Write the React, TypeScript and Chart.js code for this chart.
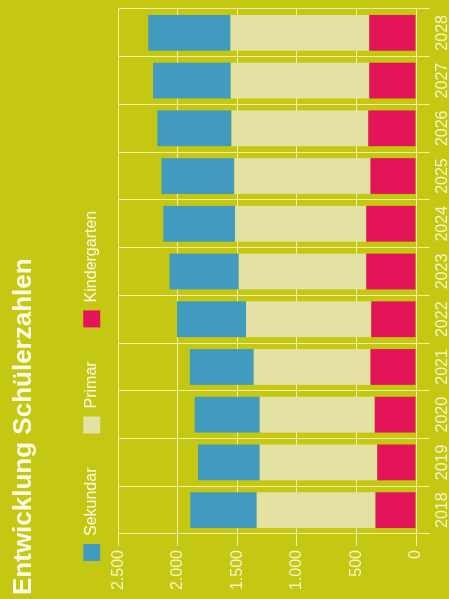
import React, { useEffect, useRef } from "react";
import { Chart, registerables } from "chart.js";

Chart.register(...registerables);

const years = ["2018", "2019", "2020", "2021", "2022", "2023", "2024", "2025", "2026", "2027", "2028"];
const kindergarten = [339, 325, 347, 381, 375, 417, 417, 383, 400, 392, 392];
const primar = [998, 987, 965, 981, 1053, 1070, 1103, 1142, 1148, 1164, 1166];
const sekundar = [558, 519, 546, 538, 578, 583, 602, 612, 624, 652, 690];
const valueTicks = [0, 500, 1000, 1500, 2000, 2500];

const BG = "#c5c812";
const GRID = "rgba(248, 245, 185, 0.85)";
const FONT = "'Liberation Sans', Arial, sans-serif";

const fmt = (v: number) => String(v).replace(/\B(?=(\d{3})+(?!\d))/g, ".");

const legendPad = {
  id: "legendPad",
  beforeInit(chart: any) {
    const legend = chart.legend;
    if (!legend) return;
    const fit = legend.fit;
    legend.fit = function () {
      fit.call(this);
      this.height += 8;
    };
  },
};

export default function App() {
  const ref = useRef<HTMLCanvasElement | null>(null);

  useEffect(() => {
    if (!ref.current) return;
    const chart = new Chart(ref.current, {
      type: "bar",
      data: {
        labels: years,
        datasets: [
          { label: "Kindergarten", data: kindergarten, backgroundColor: "#e41458" },
          { label: "Primar", data: primar, backgroundColor: "#e3e2a2" },
          { label: "Sekundar", data: sekundar, backgroundColor: "#409bbe" },
        ],
      },
      options: {
        responsive: false,
        animation: false,
        layout: { padding: { left: 4, right: 9, top: 0, bottom: 0 } },
        datasets: { bar: { categoryPercentage: 1, barPercentage: 0.75 } } as any,
        plugins: {
          title: {
            display: true,
            text: "Entwicklung Schülerzahlen",
            align: "start",
            color: "#fdfbe6",
            font: { family: FONT, size: 26, weight: "bold" },
            padding: { top: 8, bottom: 10 },
          },
          legend: {
            display: true,
            align: "start",
            reverse: true,
            labels: {
              color: "#fbf9e2",
              font: { family: FONT, size: 16 },
              boxWidth: 17,
              boxHeight: 17,
              padding: 34,
            },
          },
          tooltip: { enabled: false },
        },
        scales: {
          x: {
            stacked: true,
            grid: { color: GRID, tickLength: 14, offset: true },
            border: { display: false },
            ticks: { color: "#f6f3c4", font: { family: FONT, size: 16 }, maxRotation: 0, padding: 3 },
            afterFit: (s: any) => { s.height = 33; },
          },
          y: {
            stacked: true,
            min: valueTicks[0],
            max: valueTicks[valueTicks.length - 1],
            grid: { color: GRID, tickLength: 12 },
            border: { display: false },
            ticks: {
              stepSize: valueTicks[1] - valueTicks[0],
              color: "#f6f3c4",
              font: { family: FONT, size: 16 },
              padding: 4,
              callback: (v: any) => fmt(Number(v)),
            },
            afterFit: (s: any) => { s.width = 61; },
          },
        },
      },
      plugins: [legendPad],
    });
    return () => chart.destroy();
  }, []);

  return (
    <div style={{ position: "fixed", left: 0, top: 0, width: 449, height: 599, background: BG, overflow: "hidden" }}>
      <div
        style={{
          position: "absolute",
          left: 0,
          top: 0,
          width: 599,
          height: 449,
          transformOrigin: "0 0",
          transform: "translateY(599px) rotate(-90deg)",
        }}
      >
        <canvas ref={ref} width={599} height={449} style={{ display: "block" }} />
      </div>
    </div>
  );
}
